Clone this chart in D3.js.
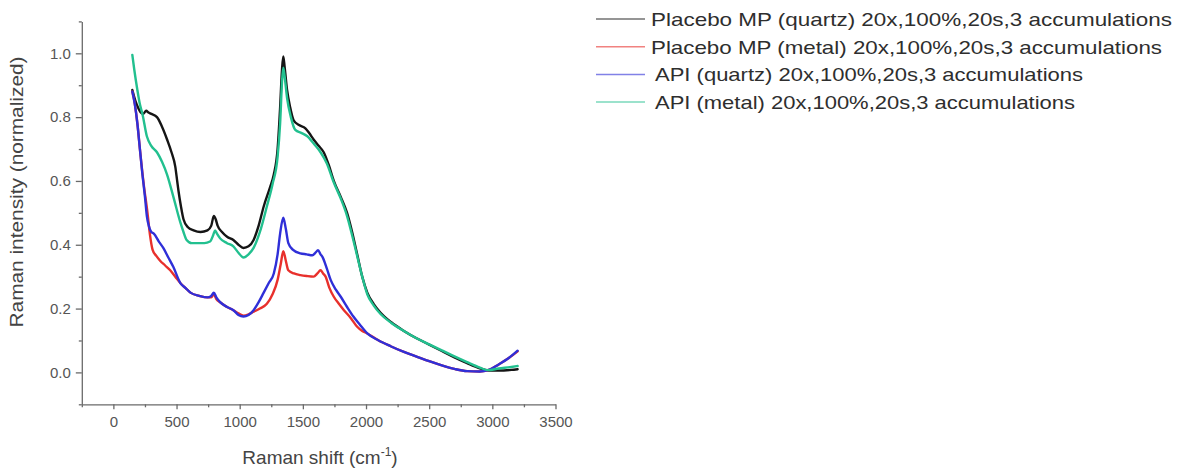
<!DOCTYPE html>
<html><head><meta charset="utf-8">
<script src="https://cdn.jsdelivr.net/npm/d3@7"></script>
<style>body{margin:0;background:#fff}svg{display:block;font-family:"Liberation Sans",Arial,sans-serif}</style>
</head><body><svg id="c" width="1182" height="470"></svg>
<script>
// ---- data (Raman shift cm-1, normalized intensity) ----
const seriesLabels = [
  "Placebo MP (quartz) 20x,100%,20s,3 accumulations",
  "Placebo MP (metal) 20x,100%,20s,3 accumulations",
  "API (quartz) 20x,100%,20s,3 accumulations",
  "API (metal) 20x,100%,20s,3 accumulations"
];
const placeboQuartz = [[150,.885],[175,.85],[195,.83],[215,.815],[235,.81],[260,.82],[275,.815],[300,.81],[345,.80],[385,.77],[425,.73],[460,.69],[490,.645],[505,.60],[515,.57],[535,.52],[555,.48],[590,.455],[635,.445],[690,.44],[745,.445],[775,.46],[795,.49],[810,.48],[825,.46],[860,.44],[900,.425],[950,.415],[990,.40],[1030,.39],[1070,.395],[1110,.415],[1150,.46],[1190,.52],[1240,.58],[1270,.62],[1300,.70],[1320,.83],[1335,.95],[1345,.99],[1355,.96],[1375,.885],[1400,.83],[1427,.79],[1470,.775],[1520,.765],[1550,.75],[1585,.73],[1625,.71],[1665,.69],[1705,.65],[1745,.60],[1800,.55],[1850,.50],[1890,.44],[1930,.37],[1970,.30],[2010,.25],[2060,.215],[2115,.187],[2200,.157],[2300,.13],[2400,.107],[2500,.087],[2600,.067],[2700,.047],[2800,.029],[2900,.013],[2965,.006],[3050,.006],[3150,.008],[3200,.01]];
const placeboMetal = [[150,.88],[170,.84],[190,.78],[210,.70],[240,.59],[270,.50],[290,.43],[310,.385],[340,.365],[370,.35],[410,.335],[450,.32],[490,.30],[530,.28],[570,.265],[610,.25],[680,.24],[745,.235],[775,.235],[795,.245],[815,.23],[845,.22],[900,.205],[950,.195],[990,.185],[1030,.178],[1070,.182],[1110,.19],[1160,.20],[1215,.215],[1260,.245],[1300,.29],[1325,.34],[1345,.38],[1365,.35],[1385,.32],[1430,.31],[1480,.305],[1530,.302],[1585,.30],[1615,.31],[1640,.32],[1660,.31],[1680,.30],[1710,.265],[1745,.237],[1785,.215],[1825,.195],[1880,.17],[1930,.143],[1970,.13],[2010,.122],[2100,.10],[2195,.082],[2300,.064],[2410,.048],[2500,.035],[2600,.022],[2700,.011],[2800,.004],[2900,.003],[2965,.007],[3050,.025],[3130,.045],[3200,.066]];
const apiQuartz = [[150,.88],[170,.84],[190,.78],[210,.70],[230,.62],[250,.55],[265,.49],[280,.46],[300,.44],[320,.435],[360,.41],[395,.39],[435,.36],[475,.33],[530,.28],[570,.265],[610,.25],[680,.24],[745,.235],[775,.24],[795,.25],[815,.235],[845,.22],[900,.205],[950,.195],[990,.18],[1030,.175],[1070,.18],[1110,.195],[1150,.22],[1190,.25],[1230,.28],[1270,.31],[1300,.37],[1320,.435],[1345,.485],[1365,.45],[1385,.405],[1420,.385],[1480,.373],[1530,.37],[1575,.367],[1600,.375],[1620,.383],[1640,.37],[1655,.362],[1690,.325],[1720,.29],[1760,.26],[1800,.237],[1850,.205],[1900,.175],[1950,.15],[2010,.122],[2100,.10],[2195,.082],[2300,.064],[2410,.048],[2500,.035],[2600,.022],[2700,.011],[2800,.004],[2900,.003],[2965,.007],[3050,.025],[3130,.045],[3200,.068]];
const apiMetal = [[150,.995],[165,.95],[190,.885],[210,.84],[230,.81],[265,.74],[300,.71],[345,.69],[385,.66],[425,.62],[475,.55],[530,.47],[555,.44],[580,.415],[620,.405],[660,.405],[720,.405],[765,.41],[790,.43],[805,.445],[820,.435],[845,.42],[900,.405],[950,.395],[990,.375],[1030,.36],[1070,.37],[1110,.39],[1160,.44],[1215,.52],[1260,.59],[1300,.675],[1320,.78],[1335,.91],[1345,.955],[1355,.93],[1375,.86],[1405,.80],[1440,.76],[1490,.75],[1535,.74],[1590,.715],[1640,.69],[1690,.655],[1745,.595],[1800,.545],[1850,.49],[1890,.43],[1930,.365],[1970,.30],[2010,.245],[2060,.21],[2115,.183],[2200,.155],[2300,.13],[2400,.107],[2500,.088],[2600,.069],[2700,.05],[2800,.032],[2900,.015],[2965,.007],[3050,.012],[3150,.017],[3200,.02]];
const seriesData = [placeboQuartz, placeboMetal, apiQuartz, apiMetal];
const seriesColors = ["#151515", "#e8302c", "#2f2fd8", "#22c08f"];
const xMajorTicks = [0,500,1000,1500,2000,2500,3000,3500];
const xMinorTicks = [-250,250,750,1250,1750,2250,2750,3250];
const yMajorTicks = [0.0,0.2,0.4,0.6,0.8,1.0];
const yMinorTicks = [-0.1,0.1,0.3,0.5,0.7,0.9,1.1];

const svg = d3.select("#c");
const x = d3.scaleLinear().domain([-250,3500]).range([81.8,555.5]);
const y = d3.scaleLinear().domain([-0.1,1.1]).range([404.3,21.4]);
const axisColor = "#6a6a6a";
const labelColor = "#555";

// x axis
const gx = svg.append("g").attr("transform",`translate(0,${y(-0.1)})`);
gx.call(d3.axisBottom(x).tickValues(xMajorTicks).tickSize(5).tickSizeOuter(0).tickPadding(7).tickFormat(d3.format("d")));
gx.append("g").call(d3.axisBottom(x).tickValues(xMinorTicks).tickSize(3).tickSizeOuter(0).tickFormat("")).select(".domain").remove();
// y axis
const gy = svg.append("g").attr("transform",`translate(${x(-250)},0)`);
gy.call(d3.axisLeft(y).tickValues(yMajorTicks).tickSize(6).tickSizeOuter(0).tickPadding(5).tickFormat(d3.format(".1f")));
gy.append("g").call(d3.axisLeft(y).tickValues(yMinorTicks).tickSize(3).tickSizeOuter(0).tickFormat("")).select(".domain").remove();

svg.selectAll(".domain, .tick line").attr("stroke",axisColor).attr("stroke-width",1.3);
svg.selectAll(".tick text").attr("fill",labelColor).attr("font-size",15).attr("font-family","Liberation Sans, Arial, sans-serif");

// lines
const line = d3.line().x(d=>x(d[0])).y(d=>y(d[1])).curve(d3.curveMonotoneX);
svg.append("g").selectAll("path").data(seriesData).join("path")
  .attr("d", line).attr("fill","none")
  .attr("stroke",(d,i)=>seriesColors[i]).attr("stroke-width",2.4)
  .attr("stroke-linejoin","round").attr("stroke-linecap","round");

// axis titles
svg.append("text").attr("transform","translate(23,192) rotate(-90)")
  .attr("text-anchor","middle").attr("font-size",18).attr("fill","#444")
  .attr("textLength",271).attr("lengthAdjust","spacingAndGlyphs")
  .text("Raman intensity (normalized)");
const xt = svg.append("text").attr("x",320).attr("y",464).attr("text-anchor","middle")
  .attr("font-size",19).attr("fill","#444");
xt.append("tspan").text("Raman shift (cm");
xt.append("tspan").attr("font-size",12).attr("dy",-8).text("-1");
xt.append("tspan").attr("dy",8).text(")");

// legend
const legendX = [651,651,655,655];
const legendLen = [521,511,428,420];
const lg = svg.append("g");
seriesLabels.forEach((lab,i)=>{
  const yy = 19 + i*27.7;
  lg.append("line").attr("x1",596).attr("x2",645).attr("y1",yy).attr("y2",yy)
    .attr("stroke",seriesColors[i]).attr("stroke-width",1.5).attr("opacity",0.6);
  lg.append("text").attr("x",legendX[i]).attr("y",yy+7).attr("font-size",18.5).attr("fill","#2e2e2e")
    .attr("textLength",legendLen[i]).attr("lengthAdjust","spacingAndGlyphs").text(lab);
});
</script></body></html>
